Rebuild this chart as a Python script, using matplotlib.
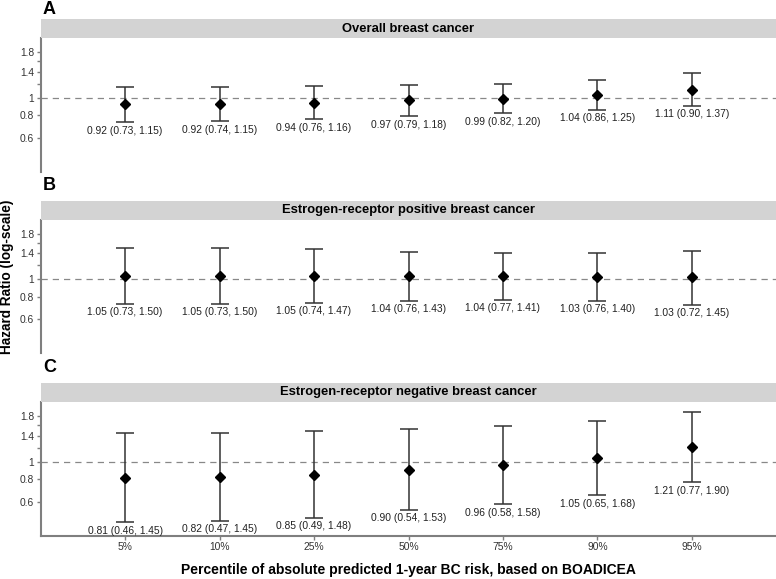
import matplotlib
matplotlib.use("Agg")
import matplotlib.pyplot as plt
import numpy as np

plt.rcParams['font.family'] = ['Liberation Sans', 'DejaVu Sans']

categories = ["5%", "10%", "25%", "50%", "75%", "90%", "95%"]
panel_letters = ["A", "B", "C"]
panel_titles = ["Overall breast cancer",
                "Estrogen-receptor positive breast cancer",
                "Estrogen-receptor negative breast cancer"]

est_A = [0.92, 0.92, 0.94, 0.97, 0.99, 1.04, 1.11]
lo_A = [0.73, 0.74, 0.76, 0.79, 0.82, 0.86, 0.90]
hi_A = [1.15, 1.15, 1.16, 1.18, 1.20, 1.25, 1.37]

est_B = [1.05, 1.05, 1.05, 1.04, 1.04, 1.03, 1.03]
lo_B = [0.73, 0.73, 0.74, 0.76, 0.77, 0.76, 0.72]
hi_B = [1.50, 1.50, 1.47, 1.43, 1.41, 1.40, 1.45]

est_C = [0.81, 0.82, 0.85, 0.90, 0.96, 1.05, 1.21]
lo_C = [0.46, 0.47, 0.49, 0.54, 0.58, 0.65, 0.77]
hi_C = [1.45, 1.45, 1.48, 1.53, 1.58, 1.68, 1.90]

yticks = [0.6, 0.8, 1.0, 1.2, 1.4, 1.6, 1.8]
yticklabels = ["0.6", "0.8", "1", "", "1.4", "", "1.8"]

panels = [(est_A, lo_A, hi_A), (est_B, lo_B, hi_B), (est_C, lo_C, hi_C)]

W, H = 776, 579
fig = plt.figure(figsize=(W / 100, H / 100), dpi=100)

# pixel layout: (strip_top, axes_top, axes_bottom, letter_y)
layout = [(19, 38, 172, 10), (201, 220, 353, 185), (383, 402, 536, 368)]
left_px = 41
gray = "#7f7f7f"
x = np.arange(1, len(categories) + 1)

for i, ((est, lo, hi), (st, at, ab, ly)) in enumerate(zip(panels, layout)):
    ax = fig.add_axes([left_px / W, 1 - ab / H, 1 - left_px / W, (ab - at) / H])
    sax = fig.add_axes([left_px / W, 1 - at / H, 1 - left_px / W, (at - st) / H])
    sax.set_facecolor("#d3d3d3")
    for s in sax.spines.values():
        s.set_visible(False)
    sax.set_xticks([]); sax.set_yticks([])
    sax.text(0.5, 0.5, panel_titles[i], ha="center", va="center",
             fontsize=9.4, fontweight="bold", transform=sax.transAxes)
    fig.text(43 / W, 1 - ly / H, panel_letters[i], ha="left", va="center",
             fontsize=13, fontweight="bold")

    ax.set_yscale("log")
    ax.set_ylim(0.387, 2.15)
    ax.set_xlim(0.11, 7.89)
    ax.axhline(1.0, color="#888888", ls=(0, (5, 4)), lw=0.9, zorder=1)
    est = np.array(est); lo = np.array(lo); hi = np.array(hi)
    ax.errorbar(x, est, yerr=[est - lo, hi - est], fmt="none", ecolor="#333333",
                elinewidth=1.1, capsize=6.5, capthick=1.1, zorder=2)
    ax.plot(x, est, ls="none", marker="D", ms=5.5, color="black", zorder=3)
    for xi, e, l, h in zip(x, est, lo, hi):
        ax.annotate(f"{e:.2f} ({l:.2f}, {h:.2f})", (xi, l), xytext=(0, -6),
                    textcoords="offset points", ha="center", va="center",
                    fontsize=7.4, color="#222222")

    ax.set_yticks(yticks)
    ax.set_yticklabels(yticklabels)
    ax.yaxis.set_minor_locator(matplotlib.ticker.NullLocator())
    ax.tick_params(axis="y", length=3, width=1, color=gray, labelsize=7.4,
                   labelcolor="#333333", pad=2)
    for s in ["top", "right", "bottom"]:
        ax.spines[s].set_visible(False)
    ax.spines["left"].set_color(gray)
    ax.spines["left"].set_linewidth(1.5)
    if i == 2:
        ax.spines["bottom"].set_visible(True)
        ax.spines["bottom"].set_color(gray)
        ax.spines["bottom"].set_linewidth(1.5)
        ax.set_xticks(x)
        ax.set_xticklabels(categories)
        ax.tick_params(axis="x", length=3, width=1, color=gray, labelsize=7.4,
                       labelcolor="#333333", pad=1.5)
    else:
        ax.set_xticks([])

fig.text(7 / W, 1 - 277 / H, "Hazard Ratio (log-scale)", rotation=90,
         ha="center", va="center", fontsize=9.8, fontweight="bold")
fig.text(408 / W, 1 - 570 / H,
         "Percentile of absolute predicted 1-year BC risk, based on BOADICEA",
         ha="center", va="center", fontsize=10, fontweight="bold")

fig.savefig("out.png", dpi=100)
